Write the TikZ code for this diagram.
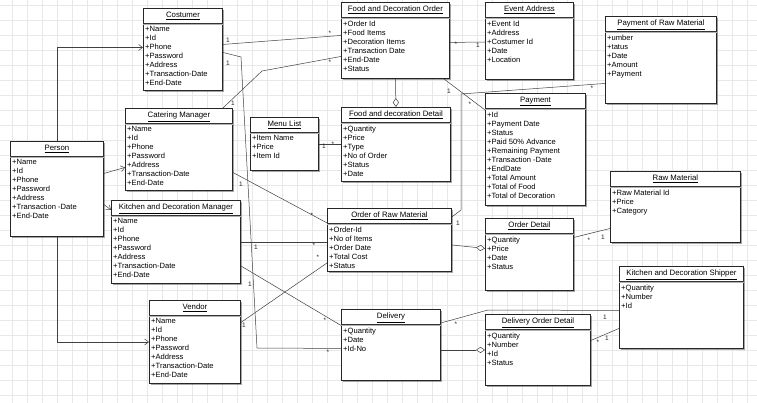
\documentclass[tikz,border=0pt]{standalone}
\usepackage{fontspec}
\setmainfont{Liberation Sans}
\usetikzlibrary{arrows.meta,shadows}

\tikzset{
  classbox/.style={draw=black!85, line width=0.9pt, fill=white, anchor=north west, inner sep=0pt,
    drop shadow={shadow xshift=1.6pt, shadow yshift=-1.6pt, opacity=0.35, fill=black}},
  ctitle/.style={font=\fontsize{7.8}{9}\selectfont, anchor=north, inner sep=0pt},
  cattr/.style={font=\fontsize{7.6}{9}\selectfont, align=left, anchor=north west, inner sep=0pt},
  gridline/.style={draw=black!9, line width=0.5pt},
  assoc/.style={draw=black!75, line width=0.5pt},
  gen/.style={assoc, -{Straight Barb[length=4pt,width=6pt]}},
  aggr/.style={assoc, -{Diamond[open,length=9pt,width=6pt,fill=white]}},
  mult/.style={font=\fontsize{6.5}{7}\selectfont, inner sep=0pt, text=black!85},
}

% class box: name, left, top, width, height, title, attributes
\newcommand{\umlclass}[7]{%
  \node[classbox, minimum width=#4pt, minimum height=#5pt] (#1) at (#2,#3) {};
  \node[ctitle] (#1-t) at ([yshift=-4pt]#1.north) {\underline{#6}};
  \draw[black!80, line width=0.6pt] ([yshift=-15pt]#1.north west) -- ([yshift=-15pt]#1.north east);
  \draw[black!30, line width=0.8pt] ([yshift=-16.2pt]#1.north west) -- ([yshift=-16.2pt]#1.north east);
  \node[cattr] (#1-a) at ([xshift=2pt,yshift=-18.5pt]#1.north west) {#7};
}

\begin{document}
\begin{tikzpicture}[x=1pt,y=-1pt]
\useasboundingbox (0,0) rectangle (757,403);
\fill[white] (0,0) rectangle (757,403);
\foreach \gx in {12,27,...,757} \draw[gridline] (\gx,0) -- (\gx,403);
\foreach \gy in {5,20,...,403} \draw[gridline] (0,\gy) -- (757,\gy);

% classes
\umlclass{person}{10}{141}{93}{95}{Person}{+Name\\+Id\\+Phone\\+Password\\+Address\\+Transaction -Date\\+End-Date}
\umlclass{costumer}{143}{8}{79}{82}{Costumer}{+Name\\+Id\\+Phone\\+Password\\+Address\\+Transaction-Date\\+End-Date}
\umlclass{catering}{125}{108}{107}{82}{Catering Manager}{+Name\\+Id\\+Phone\\+Password\\+Address\\+Transaction-Date\\+End-Date}
\umlclass{kdm}{111}{200}{129}{83}{Kitchen and Decoration Manager}{+Name\\+Id\\+Phone\\+Password\\+Address\\+Transaction-Date\\+End-Date}
\umlclass{vendor}{149}{300}{91}{83}{Vendor}{+Name\\+Id\\+Phone\\+Password\\+Address\\+Transaction-Date\\+End-Date}
\umlclass{menu}{250}{117}{68}{53}{Menu List}{+Item Name\\+Price\\+Item Id}
\umlclass{fdo}{341}{2}{108}{76}{Food and Decoration Order}{+Order Id\\+Food Items\\+Decoration Items\\+Transaction Date\\+End-Date\\+Status}
\umlclass{fdd}{341}{107}{109}{74}{Food and decoration Detail}{+Quantity\\+Price\\+Type\\+No of Order\\+Status\\+Date}
\umlclass{event}{485}{2}{88}{77}{Event Address}{+Event Id\\+Address\\+Costumer Id\\+Date\\+Location}
\umlclass{prm}{605}{16}{111}{87}{Payment of Raw Material}{+umber\\+tatus\\+Date\\+Amount\\+Payment}
\umlclass{payment}{485}{93}{100}{112}{Payment}{+Id\\+Payment Date\\+Status\\+Paid 50\% Advance\\+Remaining Payment\\+Transaction -Date\\+EndDate\\+Total Amount\\+Total of Food\\+Total of Decoration}
\umlclass{raw}{610}{171}{130}{71}{Raw Material}{+Raw Material Id\\+Price\\+Category}
\umlclass{orm}{327}{208}{124}{63}{Order of Raw Material}{+Order-Id\\+No of Items\\+Order Date\\+Total Cost\\+Status}
\umlclass{od}{485}{218}{88}{72}{Order Detail}{+Quantity\\+Price\\+Date\\+Status}
\umlclass{kds}{619}{266}{124}{82}{Kitchen and Decoration Shipper}{+Quantity\\+Number\\+Id}
\umlclass{delivery}{341}{309}{99}{71}{Delivery}{+Quantity\\+Date\\+Id-No}
\umlclass{dod}{485}{314}{105}{71}{Delivery Order Detail}{+Quantity\\+Number\\+Id\\+Status}

% specialisations of Person
\draw[gen] (person.north) |- ([yshift=2pt]costumer.west);
\draw[gen] ([yshift=15.5pt]person.east) -- ([yshift=-18pt]catering.west);
\draw[gen] ([yshift=-15.5pt]person.east) -- ([yshift=32pt]kdm.west);
\draw[gen] (person.south) |- (vendor.west);

% associations
\draw[assoc] ([yshift=5pt]costumer.east) node[mult, xshift=5pt, yshift=4pt] {1}
  -- ([yshift=5pt]fdo.west) node[mult, xshift=-11pt, yshift=2pt] {*};
\draw[assoc] ([yshift=-3pt]costumer.east) node[mult, xshift=5pt, yshift=-11pt] {1}
  -- (241,57) -- (257,348) -- ([yshift=-3.5pt]delivery.west) node[mult, xshift=-13pt, yshift=-4pt] {*};
\draw[assoc] ([xshift=-10pt]catering.north east) node[mult, xshift=10pt, yshift=5pt] {1}
  -- (262,71) -- ([yshift=-16pt]fdo.west) node[mult, xshift=-11pt, yshift=-6pt] {*};
\draw[assoc] ([yshift=-23pt]catering.east) node[mult, xshift=8pt, yshift=-12pt] {1}
  -- ([yshift=17pt]orm.west) node[mult, xshift=-15pt, yshift=8pt] {*};
\draw[assoc] (kdm.east) node[mult, xshift=15pt, yshift=-5pt] {1}
  -- (kdm.east -| orm.west) node[mult, xshift=-13pt, yshift=-3pt] {*};
\draw[assoc] ([yshift=19.5pt]vendor.east) node[mult, xshift=3pt, yshift=-3pt] {1}
  -- ([yshift=-23pt]orm.west) node[mult, xshift=-9pt, yshift=6pt] {*};
\draw[assoc] ([yshift=-24pt]kdm.east) node[mult, xshift=9pt, yshift=-18pt] {1}
  -- ([yshift=19.5pt]delivery.west) node[mult, xshift=-16pt, yshift=5pt] {*};
\draw[assoc] (menu.east) node[mult, xshift=5pt, yshift=-2pt] {1}
  -- (menu.east -| fdd.west) node[mult, xshift=-8pt, yshift=0pt] {*};
\draw[aggr] (fdo.south) -- (fdd.north);
\draw[assoc] ([yshift=-2pt]fdo.east) node[mult, xshift=6pt, yshift=-2pt] {*}
  -- ([yshift=0pt]event.west |- 0,42) node[mult, xshift=-7pt, yshift=-3pt] {1};
\draw[assoc] ([xshift=-6pt]fdo.south east) node[mult, xshift=5pt, yshift=-12pt] {1}
  -- ([yshift=-17pt]payment.north west) node[mult, xshift=-15pt, yshift=6pt] {*};
\draw[assoc] ([yshift=23pt]orm.east) node[mult, xshift=6pt, yshift=-6pt] {1}
  -- (461,210) -- (461,94) -- ([yshift=-23.5pt]prm.west) node[mult, xshift=-13pt, yshift=-5pt] {*};
\draw[aggr] ([yshift=-5pt]orm.east) -- ([yshift=6pt]od.west);
\draw[assoc] ([yshift=-21.5pt]raw.west) node[mult, xshift=-7pt, yshift=-9pt] {1}
  -- ([yshift=17pt]od.east) node[mult, xshift=15pt, yshift=-3pt] {*};
\draw[aggr] (dod.west -| delivery.east) -- (dod.west);
\draw[assoc] ([yshift=22pt]delivery.east) node[mult, xshift=15pt, yshift=-1pt] {*}
  -- (488,310) -- ([yshift=-3pt]kds.west) node[mult, xshift=-14pt, yshift=-7pt] {1};
\draw[assoc] ([yshift=9.5pt]dod.east) node[mult, xshift=7pt, yshift=-2pt] {*}
  -- ([yshift=-21pt]kds.west) node[mult, xshift=-12pt, yshift=-10pt] {1};
\end{tikzpicture}
\end{document}
